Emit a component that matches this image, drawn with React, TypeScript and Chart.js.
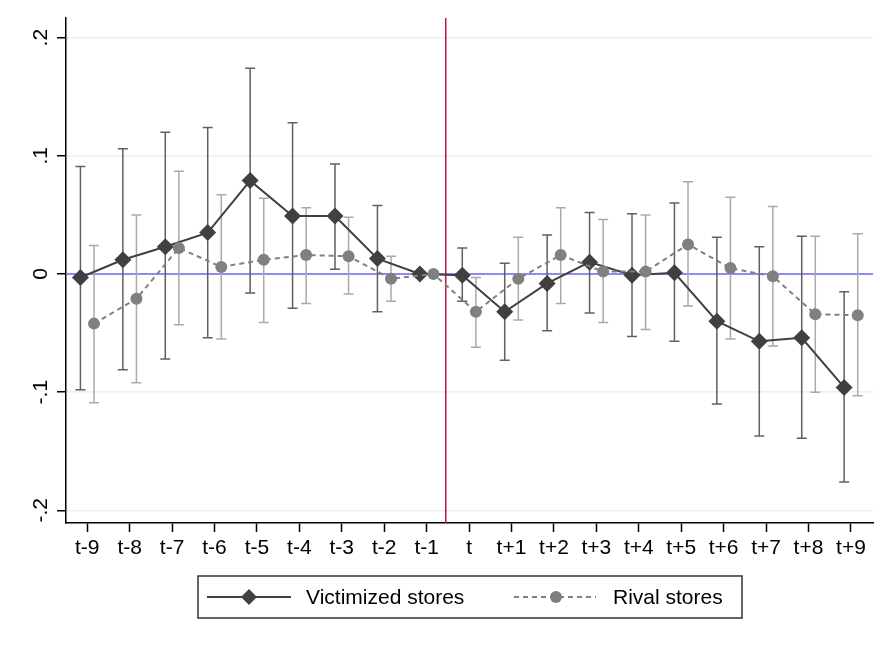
import { useEffect, useRef } from "react";
import { Chart, registerables } from "chart.js";

Chart.register(...registerables);

const periods = ["t-9", "t-8", "t-7", "t-6", "t-5", "t-4", "t-3", "t-2", "t-1", "t", "t+1", "t+2", "t+3", "t+4", "t+5", "t+6", "t+7", "t+8", "t+9"];
const periodPos = [-9, -8, -7, -6, -5, -4, -3, -2, -1, 0, 1, 2, 3, 4, 5, 6, 7, 8, 9];

const victimCoef = [-0.003, 0.012, 0.023, 0.035, 0.079, 0.049, 0.049, 0.013, 0, -0.001, -0.032, -0.008, 0.01, -0.001, 0.001, -0.04, -0.057, -0.054, -0.096];
const victimLo = [-0.098, -0.081, -0.072, -0.054, -0.016, -0.029, 0.004, -0.032, 0, -0.023, -0.073, -0.048, -0.033, -0.053, -0.057, -0.11, -0.137, -0.139, -0.176];
const victimHi = [0.091, 0.106, 0.12, 0.124, 0.174, 0.128, 0.093, 0.058, 0, 0.022, 0.009, 0.033, 0.052, 0.051, 0.06, 0.031, 0.023, 0.032, -0.015];

const rivalCoef = [-0.042, -0.021, 0.022, 0.006, 0.012, 0.016, 0.015, -0.004, 0, -0.032, -0.004, 0.016, 0.002, 0.002, 0.025, 0.005, -0.002, -0.034, -0.035];
const rivalLo = [-0.109, -0.092, -0.043, -0.055, -0.041, -0.025, -0.017, -0.023, 0, -0.062, -0.039, -0.025, -0.041, -0.047, -0.027, -0.055, -0.061, -0.1, -0.103];
const rivalHi = [0.024, 0.05, 0.087, 0.067, 0.064, 0.056, 0.048, 0.015, 0, -0.003, 0.031, 0.056, 0.046, 0.05, 0.078, 0.065, 0.057, 0.032, 0.034];

const yTickVals = [-0.2, -0.1, 0, 0.1, 0.2];
const yTickLabels = ["-.2", "-.1", "0", ".1", ".2"];

const FONT = '"Liberation Sans", Arial, sans-serif';
const VICTIM = "#404040";
const RIVAL = "#808080";
const SHIFT = 0.16;
const EVENT_LINE = -0.55;

const refLines = {
  id: "refLines",
  beforeDatasetsDraw(chart: any) {
    const { ctx, chartArea, scales } = chart;
    ctx.save();
    const y0 = scales.y.getPixelForValue(0);
    ctx.strokeStyle = "#6b6bf5";
    ctx.lineWidth = 1.5;
    ctx.beginPath();
    ctx.moveTo(chartArea.left, y0);
    ctx.lineTo(chartArea.right, y0);
    ctx.stroke();
    const xe = scales.x.getPixelForValue(EVENT_LINE);
    ctx.strokeStyle = "#c0143c";
    ctx.beginPath();
    ctx.moveTo(xe, chartArea.top);
    ctx.lineTo(xe, chartArea.bottom);
    ctx.stroke();

    const caps = (lo: number[], hi: number[], shift: number, color: string) => {
      ctx.strokeStyle = color;
      ctx.lineWidth = 1.5;
      periodPos.forEach((p, i) => {
        if (lo[i] === hi[i]) return;
        const x = scales.x.getPixelForValue(p + shift);
        const a = scales.y.getPixelForValue(lo[i]);
        const b = scales.y.getPixelForValue(hi[i]);
        ctx.beginPath();
        ctx.moveTo(x, a);
        ctx.lineTo(x, b);
        ctx.moveTo(x - 5, a);
        ctx.lineTo(x + 5, a);
        ctx.moveTo(x - 5, b);
        ctx.lineTo(x + 5, b);
        ctx.stroke();
      });
    };
    caps(victimLo, victimHi, -SHIFT, "#606060");
    caps(rivalLo, rivalHi, SHIFT, "#aaaaaa");
    ctx.restore();
  },
  afterDraw(chart: any) {
    const { ctx, chartArea, scales } = chart;
    ctx.save();
    // rotated y tick labels
    ctx.fillStyle = "#000";
    ctx.font = `21px ${FONT}`;
    ctx.textAlign = "center";
    ctx.textBaseline = "middle";
    scales.y.ticks.forEach((t: any, i: number) => {
      const y = scales.y.getPixelForValue(t.value);
      ctx.save();
      ctx.translate(40, y);
      ctx.rotate(-Math.PI / 2);
      ctx.fillText(yTickLabels[i], 0, 1);
      ctx.restore();
    });

    // legend
    const w = 544;
    const h = 42;
    const left = Math.round((chartArea.left + chartArea.right) / 2 - w / 2);
    const top = scales.x.bottom + 8;
    const cy = top + h / 2;
    ctx.strokeStyle = "#333";
    ctx.lineWidth = 1.5;
    ctx.strokeRect(left, top, w, h);

    ctx.strokeStyle = VICTIM;
    ctx.lineWidth = 2;
    ctx.beginPath();
    ctx.moveTo(left + 9, cy);
    ctx.lineTo(left + 93, cy);
    ctx.stroke();
    ctx.fillStyle = VICTIM;
    const dx = left + 51;
    ctx.beginPath();
    ctx.moveTo(dx - 8, cy);
    ctx.lineTo(dx, cy - 8);
    ctx.lineTo(dx + 8, cy);
    ctx.lineTo(dx, cy + 8);
    ctx.closePath();
    ctx.fill();

    ctx.strokeStyle = RIVAL;
    ctx.setLineDash([5, 4]);
    ctx.beginPath();
    ctx.moveTo(left + 316, cy);
    ctx.lineTo(left + 398, cy);
    ctx.stroke();
    ctx.setLineDash([]);
    ctx.fillStyle = RIVAL;
    ctx.beginPath();
    ctx.arc(left + 358, cy, 6, 0, Math.PI * 2);
    ctx.fill();

    ctx.fillStyle = "#000";
    ctx.textAlign = "left";
    ctx.fillText("Victimized stores", left + 108, cy + 1);
    ctx.fillText("Rival stores", left + 415, cy + 1);
    ctx.restore();
  },
};

const App = () => {
  const canvasRef = useRef<HTMLCanvasElement | null>(null);

  useEffect(() => {
    document.body.style.margin = "0";
    if (!canvasRef.current) return;

    const chart = new Chart(canvasRef.current, {
      type: "line",
      data: {
        datasets: [
          {
            label: "Rival stores",
            data: periodPos.map((p, i) => ({ x: p + SHIFT, y: rivalCoef[i] })),
            borderColor: RIVAL,
            borderWidth: 2,
            borderDash: [5, 4],
            pointStyle: "circle",
            pointRadius: 6,
            pointBackgroundColor: RIVAL,
            pointBorderWidth: 0,
            order: 0,
          },
          {
            label: "Victimized stores",
            data: periodPos.map((p, i) => ({ x: p - SHIFT, y: victimCoef[i] })),
            borderColor: VICTIM,
            borderWidth: 2,
            pointStyle: "rectRot",
            pointRadius: 8.5,
            pointBackgroundColor: VICTIM,
            pointBorderWidth: 0,
            order: 1,
          },
        ],
      },
      options: {
        animation: false,
        responsive: false,
        layout: { padding: { top: 18, right: 18, left: 0, bottom: 80 } },
        plugins: { legend: { display: false }, tooltip: { enabled: false } },
        scales: {
          x: {
            type: "linear",
            min: -9.5,
            max: 9.52,
            afterBuildTicks: (axis: any) => {
              axis.ticks = periodPos.map((v) => ({ value: v }));
            },
            afterFit: (axis: any) => {
              axis.height = 45;
            },
            ticks: {
              autoSkip: false,
              maxRotation: 0,
              minRotation: 0,
              padding: 4,
              color: "#000",
              font: { family: FONT, size: 21 },
              callback: (v: any) => periods[periodPos.indexOf(Number(v))] ?? "",
            },
            grid: { drawOnChartArea: false, drawTicks: true, tickLength: 9, tickColor: "#000", tickWidth: 1.5 },
            border: { display: true, color: "#000", width: 1.5 },
          },
          y: {
            type: "linear",
            min: -0.2107,
            max: 0.2166,
            afterBuildTicks: (axis: any) => {
              axis.ticks = yTickVals.map((v) => ({ value: v }));
            },
            afterFit: (axis: any) => {
              axis.width = 66;
            },
            ticks: {
              color: "rgba(0,0,0,0)",
              font: { family: FONT, size: 21 },
              callback: (v: any) => yTickLabels[yTickVals.indexOf(Number(v))] ?? "",
            },
            grid: { color: "#e9f0f0", lineWidth: 1.5, drawTicks: true, tickLength: 9, tickColor: "#000", tickWidth: 1.5 },
            border: { display: true, color: "#000", width: 1.5 },
          },
        },
      },
      plugins: [refLines],
    });

    return () => {
      chart.destroy();
    };
  }, []);

  return (
    <div style={{ width: 891, height: 648, background: "#fff" }}>
      <canvas ref={canvasRef} width={891} height={648} />
    </div>
  );
};

export default App;
